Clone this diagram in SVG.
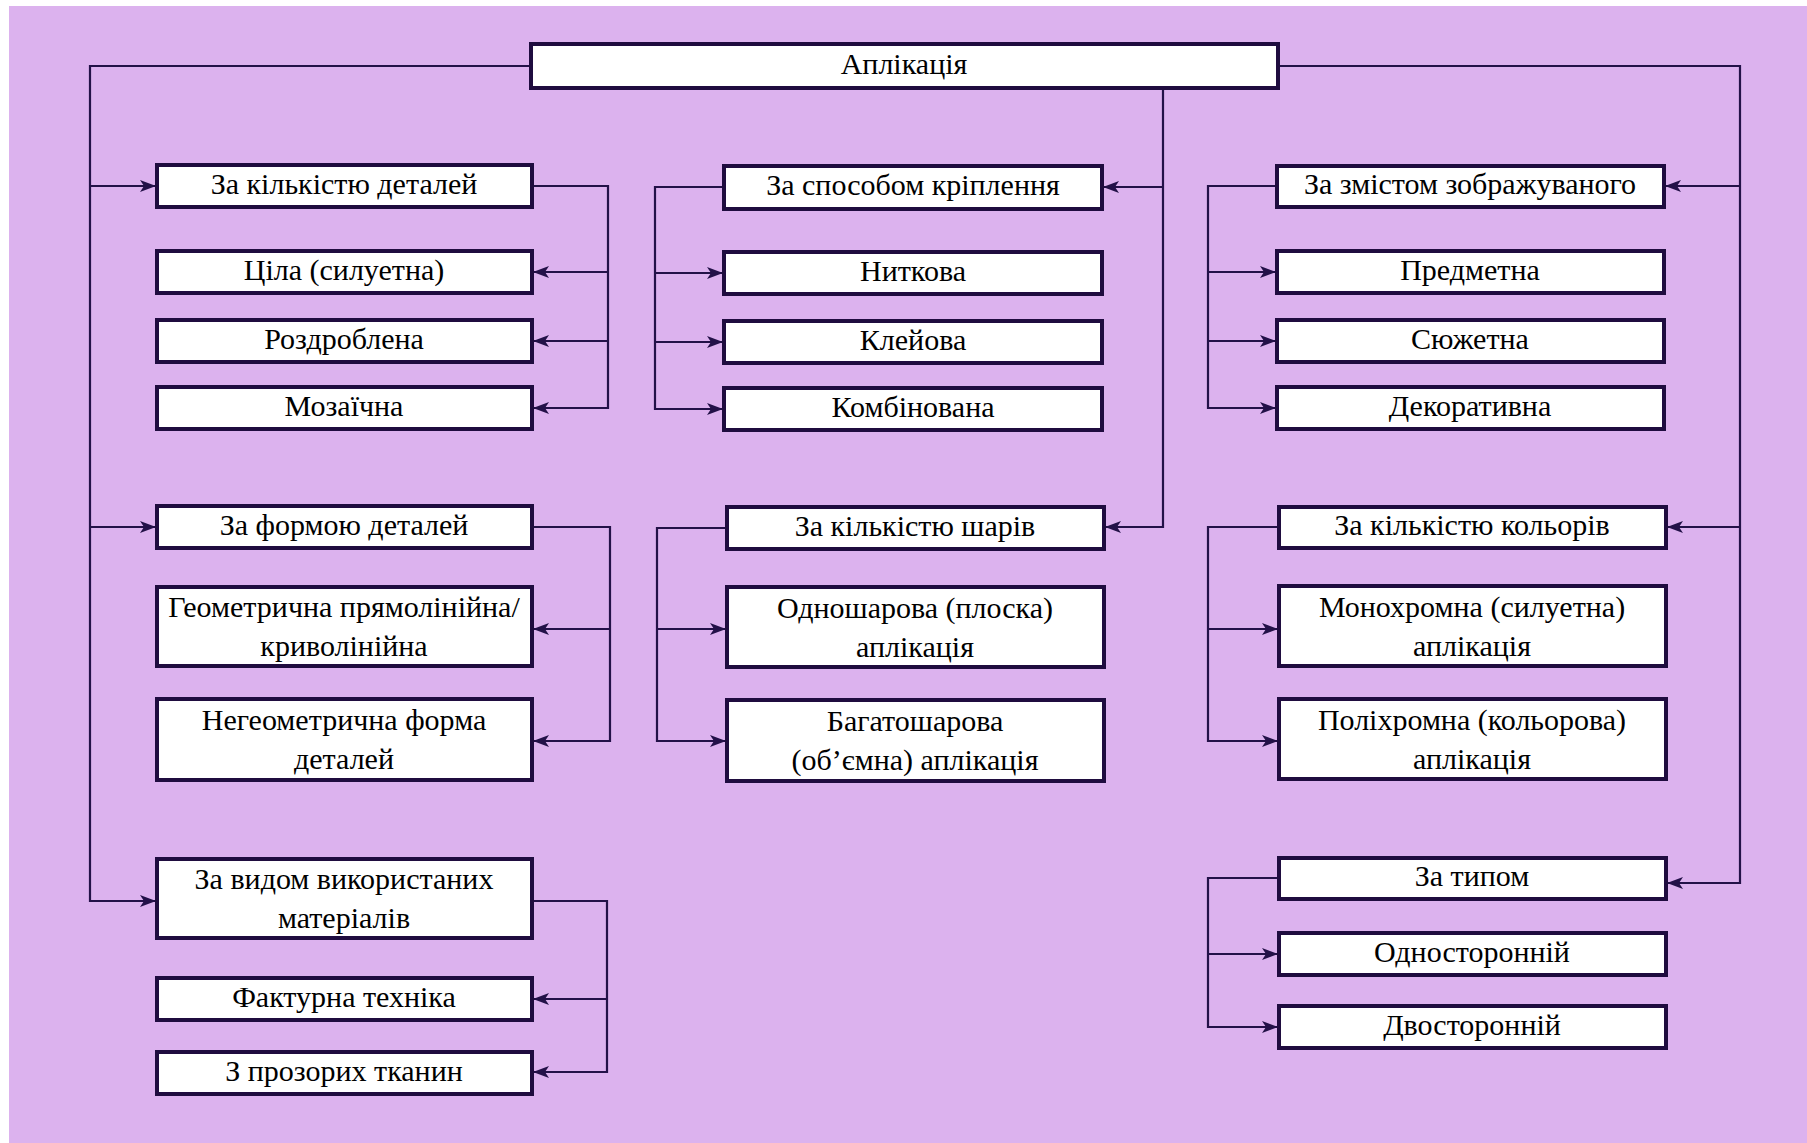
<svg xmlns="http://www.w3.org/2000/svg" width="1807" height="1143" viewBox="0 0 1807 1143">
<style>
.box{fill:#fff;stroke:#1f0c3f;stroke-width:4}
.t{font-family:"Liberation Serif","Times New Roman",serif;font-size:30px;fill:#000;text-anchor:middle;dominant-baseline:central}
.c{fill:none;stroke:#231148;stroke-width:2.2}
</style>
<defs>
<marker id="ah" markerUnits="userSpaceOnUse" markerWidth="16" markerHeight="12" refX="15" refY="6" orient="auto">
<path d="M0,0 L16,6 L0,12 L4,6 Z" fill="#231148"/>
</marker>
</defs>
<rect x="0" y="0" width="1807" height="1143" fill="#fff"/>
<rect x="9" y="6" width="1798" height="1137" fill="#dcb2ee"/>
<g id="connectors">
<path class="c" d="M531,66 H90 V901 H155" marker-end="url(#ah)"/>
<path class="c" d="M90,186 H155" marker-end="url(#ah)"/>
<path class="c" d="M90,527 H155" marker-end="url(#ah)"/>
<path class="c" d="M534,186 H608 V408 H534" marker-end="url(#ah)"/>
<path class="c" d="M608,272 H534" marker-end="url(#ah)"/>
<path class="c" d="M608,341 H534" marker-end="url(#ah)"/>
<path class="c" d="M534,527 H610 V741 H534" marker-end="url(#ah)"/>
<path class="c" d="M610,629 H534" marker-end="url(#ah)"/>
<path class="c" d="M534,901 H607 V1072 H534" marker-end="url(#ah)"/>
<path class="c" d="M607,999 H534" marker-end="url(#ah)"/>
<path class="c" d="M1163,88 V527 H1106" marker-end="url(#ah)"/>
<path class="c" d="M1163,187 H1104" marker-end="url(#ah)"/>
<path class="c" d="M722,187 H655 V409 H722" marker-end="url(#ah)"/>
<path class="c" d="M655,273 H722" marker-end="url(#ah)"/>
<path class="c" d="M655,342 H722" marker-end="url(#ah)"/>
<path class="c" d="M725,528 H657 V741 H725" marker-end="url(#ah)"/>
<path class="c" d="M657,629 H725" marker-end="url(#ah)"/>
<path class="c" d="M1280,66 H1740 V883 H1668" marker-end="url(#ah)"/>
<path class="c" d="M1740,186 H1666" marker-end="url(#ah)"/>
<path class="c" d="M1740,527 H1668" marker-end="url(#ah)"/>
<path class="c" d="M1275,186 H1208 V408 H1275" marker-end="url(#ah)"/>
<path class="c" d="M1208,272 H1275" marker-end="url(#ah)"/>
<path class="c" d="M1208,341 H1275" marker-end="url(#ah)"/>
<path class="c" d="M1277,527 H1208 V741 H1277" marker-end="url(#ah)"/>
<path class="c" d="M1208,629 H1277" marker-end="url(#ah)"/>
<path class="c" d="M1277,878 H1208 V1027 H1277" marker-end="url(#ah)"/>
<path class="c" d="M1208,954 H1277" marker-end="url(#ah)"/>
</g>
<g id="n-root"><rect class="box" x="531" y="44" width="747" height="44"/><text class="t" x="904" y="63">Аплікація</text></g>
<g id="n-l1"><rect class="box" x="157" y="165" width="375" height="42"/><text class="t" x="344" y="183">За кількістю деталей</text></g>
<g id="n-l1a"><rect class="box" x="157" y="251" width="375" height="42"/><text class="t" x="344" y="269">Ціла (силуетна)</text></g>
<g id="n-l1b"><rect class="box" x="157" y="320" width="375" height="42"/><text class="t" x="344" y="338">Роздроблена</text></g>
<g id="n-l1c"><rect class="box" x="157" y="387" width="375" height="42"/><text class="t" x="344" y="405">Мозаїчна</text></g>
<g id="n-l2"><rect class="box" x="157" y="506" width="375" height="42"/><text class="t" x="344" y="524">За формою деталей</text></g>
<g id="n-l2a"><rect class="box" x="157" y="587" width="375" height="79"/><text class="t" x="344" y="606">Геометрична прямолінійна/</text><text class="t" x="344" y="645">криволінійна</text></g>
<g id="n-l2b"><rect class="box" x="157" y="699" width="375" height="81"/><text class="t" x="344" y="719">Негеометрична форма</text><text class="t" x="344" y="758">деталей</text></g>
<g id="n-l3"><rect class="box" x="157" y="859" width="375" height="79"/><text class="t" x="344" y="878">За видом використаних</text><text class="t" x="344" y="917">матеріалів</text></g>
<g id="n-l3a"><rect class="box" x="157" y="978" width="375" height="42"/><text class="t" x="344" y="996">Фактурна техніка</text></g>
<g id="n-l3b"><rect class="box" x="157" y="1052" width="375" height="42"/><text class="t" x="344" y="1070">З прозорих тканин</text></g>
<g id="n-m1"><rect class="box" x="724" y="166" width="378" height="43"/><text class="t" x="913" y="184">За способом кріплення</text></g>
<g id="n-m1a"><rect class="box" x="724" y="252" width="378" height="42"/><text class="t" x="913" y="270">Ниткова</text></g>
<g id="n-m1b"><rect class="box" x="724" y="321" width="378" height="42"/><text class="t" x="913" y="339">Клейова</text></g>
<g id="n-m1c"><rect class="box" x="724" y="388" width="378" height="42"/><text class="t" x="913" y="406">Комбінована</text></g>
<g id="n-m2"><rect class="box" x="727" y="507" width="377" height="42"/><text class="t" x="915" y="525">За кількістю шарів</text></g>
<g id="n-m2a"><rect class="box" x="727" y="587" width="377" height="80"/><text class="t" x="915" y="607">Одношарова (плоска)</text><text class="t" x="915" y="646">аплікація</text></g>
<g id="n-m2b"><rect class="box" x="727" y="700" width="377" height="81"/><text class="t" x="915" y="720">Багатошарова</text><text class="t" x="915" y="759">(об’ємна) аплікація</text></g>
<g id="n-r1"><rect class="box" x="1277" y="166" width="387" height="41"/><text class="t" x="1470" y="183">За змістом зображуваного</text></g>
<g id="n-r1a"><rect class="box" x="1277" y="251" width="387" height="42"/><text class="t" x="1470" y="269">Предметна</text></g>
<g id="n-r1b"><rect class="box" x="1277" y="320" width="387" height="42"/><text class="t" x="1470" y="338">Сюжетна</text></g>
<g id="n-r1c"><rect class="box" x="1277" y="387" width="387" height="42"/><text class="t" x="1470" y="405">Декоративна</text></g>
<g id="n-r2"><rect class="box" x="1279" y="507" width="387" height="41"/><text class="t" x="1472" y="524">За кількістю кольорів</text></g>
<g id="n-r2a"><rect class="box" x="1279" y="586" width="387" height="80"/><text class="t" x="1472" y="606">Монохромна (силуетна)</text><text class="t" x="1472" y="645">аплікація</text></g>
<g id="n-r2b"><rect class="box" x="1279" y="699" width="387" height="80"/><text class="t" x="1472" y="719">Поліхромна (кольорова)</text><text class="t" x="1472" y="758">аплікація</text></g>
<g id="n-r3"><rect class="box" x="1279" y="858" width="387" height="41"/><text class="t" x="1472" y="875">За типом</text></g>
<g id="n-r3a"><rect class="box" x="1279" y="933" width="387" height="42"/><text class="t" x="1472" y="951">Односторонній</text></g>
<g id="n-r3b"><rect class="box" x="1279" y="1006" width="387" height="42"/><text class="t" x="1472" y="1024">Двосторонній</text></g>
</svg>
